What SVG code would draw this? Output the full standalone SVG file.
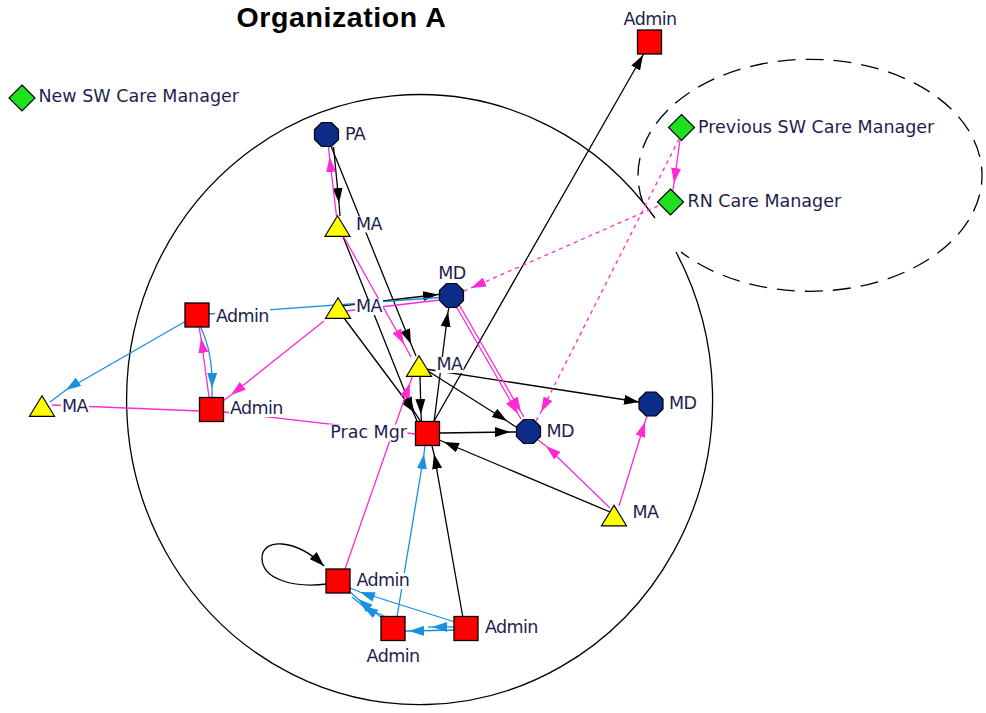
<svg xmlns="http://www.w3.org/2000/svg" width="986" height="713" viewBox="0 0 986 713">
<style>
  .title{font-family:"Liberation Sans",Arial,sans-serif;font-weight:bold;font-size:28.5px;letter-spacing:0.6px;fill:#000}
  .lbl{font-family:"DejaVu Sans",Verdana,sans-serif;font-size:17.5px;fill:#1e1e50}
  .sh{letter-spacing:-0.6px}
  .bg{fill:#fff}
  .sq{fill:#ff0000;stroke:#000;stroke-width:1.3}
  .oc{fill:#0c2c8a;stroke:#000;stroke-width:1.2}
  .tr{fill:#ffff00;stroke:#000;stroke-width:1.2}
  .dm{fill:#1fe01f;stroke:#000;stroke-width:1.2}
  .ring{fill:none;stroke:#000;stroke-width:1.3}
  .dash{fill:none;stroke:#000;stroke-width:1.3;stroke-dasharray:18 10}
  .e{fill:none;stroke-width:1.3}
  .k{stroke:#000}
  .m{stroke:#ff2ad4}
  .b{stroke:#1a8fe0}
  .dot{stroke-dasharray:4 4}
  .k.a{marker-mid:url(#ak)}
  .m.a{marker-mid:url(#am)}
  .b.a{marker-mid:url(#ab)}
</style>
<defs>
  <marker id="ak" markerUnits="userSpaceOnUse" markerWidth="15" markerHeight="10" refX="15" refY="5" orient="auto"><path d="M0,0 L15,5 L0,10 z" fill="#000"/></marker>
  <marker id="am" markerUnits="userSpaceOnUse" markerWidth="15" markerHeight="10" refX="15" refY="5" orient="auto"><path d="M0,0 L15,5 L0,10 z" fill="#ff2ad4"/></marker>
  <marker id="ab" markerUnits="userSpaceOnUse" markerWidth="15" markerHeight="10" refX="15" refY="5" orient="auto"><path d="M0,0 L15,5 L0,10 z" fill="#1a8fe0"/></marker>
  <marker id="akEnd" markerUnits="userSpaceOnUse" markerWidth="15" markerHeight="10" refX="15" refY="5" orient="auto"><path d="M0,0 L15,5 L0,10 z" fill="#000"/></marker>
  <polygon id="oct" points="12,5 5,12 -5,12 -12,5 -12,-5 -5,-12 5,-12 12,-5"/>
  <rect id="sqr" x="-12" y="-12" width="24" height="24"/>
  <polygon id="tri" points="0,-10.5 12.5,10 -12.5,10"/>
  <polygon id="dia" points="0,-13 13,0 0,13 -13,0"/>
</defs>

<rect width="986" height="713" fill="#fff"/>
<text class="title" x="341.5" y="27" text-anchor="middle">Organization A</text>

<!-- group outlines: the organisation boundary and the care-manager bubble -->
<g id="boundaries">
  <path class="ring" d="M 676 252 A 293 305 0 1 1 655 218"/>
  <path class="dash" d="M 643 203 A 172 116 0 1 1 681 252"/>
</g>

<g id="connectors">
  <!-- black ties -->
  <path class="e k a" d="M 433 423 L 643 55 L 648 46"/>
  <path class="e k a" d="M 333.5 147 L 339 203 L 340 216"/>
  <path class="e k a" d="M 331 146 L 411 344 L 416 356"/>
  <path class="e k a" d="M 342 234 L 413 412 L 418 423"/>
  <path class="e k a" d="M 344 318 L 415 413 L 421 422"/>
  <path class="e k a" d="M 420 376 L 421 414 L 421.5 422"/>
  <path class="e k a" d="M 434 422 L 448 312 L 449 307"/>
  <path class="e k a" d="M 428 371 L 507 421 L 516 427"/>
  <path class="e k a" d="M 440 433 L 510 432 L 517 432"/>
  <path class="e k a" d="M 419 368 L 639 402 L 641 402.3"/>
  <path class="e k a" d="M 610 512 L 444 442 L 439 440"/>
  <path class="e k a" d="M 463 618 L 434 454 L 432 446"/>
  <path class="e k a" d="M 340 306 L 438 294.5 L 441 294.2"/>
  <path class="e k" d="M 327 584 C 295 588 262 580 262 558 C 262 538 295 538 324 566" marker-end="url(#akEnd)"/>

  <!-- magenta ties -->
  <path class="e m a" d="M 336.5 216 L 329.5 157 L 328.5 147"/>
  <path class="e m a" d="M 341 232 L 404 344 L 411 357"/>
  <path class="e m a" d="M 345 569 L 410 383 L 414 372"/>
  <path class="e m a" d="M 610 508 L 546 446 L 538 440"/>
  <path class="e m a" d="M 619 506 L 645 422 L 647 416"/>
  <path class="e m" d="M 224 412 L 416 434"/>
  <path class="e m" d="M 52 405 L 200 411"/>
  <path class="e m a" d="M 209 397 L 201 338 L 199 327"/>
  <path class="e m a" d="M 324 321 L 231 395 L 223 401"/>
  <path class="e m" d="M 346 311 L 440 300"/>
  <path class="e m a" d="M 456 306 L 518 414 L 521 419"/>
  <path class="e m a" d="M 459 304.5 L 521 412 L 524 417"/>
  <path class="e m a" d="M 680 140 L 674 183 L 673 190"/>
  <path class="e m dot a" d="M 679 139 L 541 412 L 536 421"/>
  <path class="e m dot a" d="M 658 206 L 471 288 L 464 291"/>

  <!-- blue ties -->
  <path class="e b a" d="M 397 617 L 424 454 L 425 446"/>
  <path class="e b a" d="M 186 321 L 66 390 L 50 402"/>
  <path class="e b a" d="M 200 326 Q 213 352 212 388 L 212 397"/>
  <path class="e b" d="M 209 314 L 440 297.5"/>
  <path class="e b a" d="M 455 622 L 360 592 L 350 588"/>
  <path class="e b a" d="M 382 618 L 358 599 L 350 592"/>
  <path class="e b a" d="M 386 617 L 363 606 L 352 597"/>
  <path class="e b a" d="M 455 630 L 409 631 L 405 631"/>
  <path class="e b a" d="M 455 627 L 432 627 L 428 627"/>
</g>

<g id="nodes">
  <g id="n-pa"><use href="#oct" class="oc" x="326.5" y="134.5"/><rect class="bg" x="344" y="126.5" width="23" height="16"/><text class="lbl sh" x="345" y="139.5">PA</text></g>
  <g id="n-ma-top"><use href="#tri" class="tr" x="337.5" y="226.3"/><rect class="bg" x="355" y="216.5" width="28" height="16"/><text class="lbl sh" x="356" y="229.5">MA</text></g>
  <g id="n-md-upper"><use href="#oct" class="oc" x="451.5" y="295.5"/><rect class="bg" x="437.5" y="265.5" width="29" height="16"/><text class="lbl sh" x="452" y="278.5" text-anchor="middle">MD</text></g>
  <g id="n-ma-mid"><use href="#tri" class="tr" x="338" y="308.3"/><rect class="bg" x="355" y="299" width="28" height="16"/><text class="lbl sh" x="356" y="312">MA</text></g>
  <g id="n-admin-lu"><use href="#sqr" class="sq" x="197" y="315"/><rect class="bg" x="215" y="308.5" width="55" height="16"/><text class="lbl sh" x="216" y="321.5">Admin</text></g>
  <g id="n-admin-ll"><use href="#sqr" class="sq" x="211.5" y="409.5"/><rect class="bg" x="229" y="401" width="55" height="16"/><text class="lbl sh" x="230" y="414">Admin</text></g>
  <g id="n-ma-left"><use href="#tri" class="tr" x="42" y="406.3"/><rect class="bg" x="61" y="398.5" width="28" height="16"/><text class="lbl sh" x="62" y="411.5">MA</text></g>
  <g id="n-ma-center"><use href="#tri" class="tr" x="419" y="366.3"/><rect class="bg" x="435.5" y="357" width="28" height="16"/><text class="lbl sh" x="436.5" y="370">MA</text></g>
  <g id="n-prac-mgr"><use href="#sqr" class="sq" x="427.5" y="433.5"/><rect class="bg" x="328.5" y="424.5" width="79" height="17"/><text class="lbl" x="407" y="437.5" text-anchor="end">Prac Mgr</text></g>
  <g id="n-md-center"><use href="#oct" class="oc" x="528.5" y="431.5"/><rect class="bg" x="545.5" y="423.5" width="29" height="16"/><text class="lbl sh" x="546.5" y="436.5">MD</text></g>
  <g id="n-md-right"><use href="#oct" class="oc" x="651" y="404"/><rect class="bg" x="668" y="395.5" width="29" height="16"/><text class="lbl sh" x="669" y="408.5">MD</text></g>
  <g id="n-ma-right"><use href="#tri" class="tr" x="614" y="515.8"/><rect class="bg" x="631.5" y="505" width="28" height="16"/><text class="lbl sh" x="632.5" y="518">MA</text></g>
  <g id="n-admin-loop"><use href="#sqr" class="sq" x="338" y="581"/><rect class="bg" x="355.5" y="573" width="55" height="16"/><text class="lbl sh" x="356.5" y="586">Admin</text></g>
  <g id="n-admin-bm"><use href="#sqr" class="sq" x="393" y="628.5"/><rect class="bg" x="365.5" y="648.5" width="55" height="16"/><text class="lbl sh" x="393" y="661.5" text-anchor="middle">Admin</text></g>
  <g id="n-admin-br"><use href="#sqr" class="sq" x="466" y="628.5"/><rect class="bg" x="484" y="620" width="55" height="16"/><text class="lbl sh" x="485" y="633">Admin</text></g>
  <g id="n-admin-top"><use href="#sqr" class="sq" x="649.5" y="42"/><text class="lbl sh" x="650" y="25" text-anchor="middle">Admin</text></g>
  <g id="n-prev-sw"><use href="#dia" class="dm" x="681.5" y="127.5"/><text class="lbl" x="698" y="132.5">Previous SW Care Manager</text></g>
  <g id="n-rn"><use href="#dia" class="dm" x="670.5" y="202"/><text class="lbl" x="687.5" y="206.5">RN Care Manager</text></g>
  <g id="n-new-sw"><use href="#dia" class="dm" x="22" y="98"/><text class="lbl" x="38.5" y="101.5">New SW Care Manager</text></g>
</g>
</svg>
